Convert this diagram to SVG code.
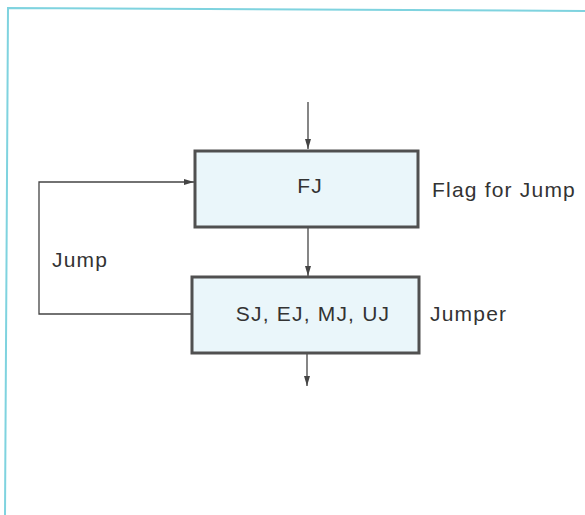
<svg xmlns="http://www.w3.org/2000/svg" width="585" height="515" viewBox="0 0 585 515">
<style>
.box{fill:#eaf6fa;stroke:#505050;stroke-width:3}
.lbl{font-family:"Liberation Sans",Arial,sans-serif;font-size:21px;fill:#333;letter-spacing:1.2px}
.wire{fill:none;stroke:#444;stroke-width:1.3}
</style>
<defs>
<marker id="ah" viewBox="0 0 10 6" refX="10" refY="3" markerWidth="10" markerHeight="6" markerUnits="userSpaceOnUse" orient="auto">
<path d="M0,0 L10,3 L0,6 Z" fill="#444"/>
</marker>
</defs>
<rect width="585" height="515" fill="#fff"/>
<path d="M5,515 L8,8 L585,11" fill="none" stroke="#7fd3df" stroke-width="2"/>
<g id="connectors">
<line class="wire" x1="308" y1="102" x2="308" y2="149" marker-end="url(#ah)"/>
<line class="wire" x1="308" y1="228" x2="308" y2="276" marker-end="url(#ah)"/>
<line class="wire" x1="307" y1="354" x2="307" y2="386" marker-end="url(#ah)"/>
<path class="wire" d="M192,314 L39,314 L39,182 L194,182" marker-end="url(#ah)"/>
</g>
<g id="fj">
<rect class="box" x="195" y="151" width="223" height="76"/>
<text class="lbl" x="310" y="193" text-anchor="middle">FJ</text>
</g>
<g id="jumper">
<rect class="box" x="192" y="277" width="227" height="76"/>
<text class="lbl" x="313" y="321" text-anchor="middle" letter-spacing="1.8">SJ, EJ, MJ, UJ</text>
</g>
<text class="lbl" x="432" y="197">Flag for Jump</text>
<text class="lbl" x="430" y="321">Jumper</text>
<text class="lbl" x="52" y="267">Jump</text>
</svg>
